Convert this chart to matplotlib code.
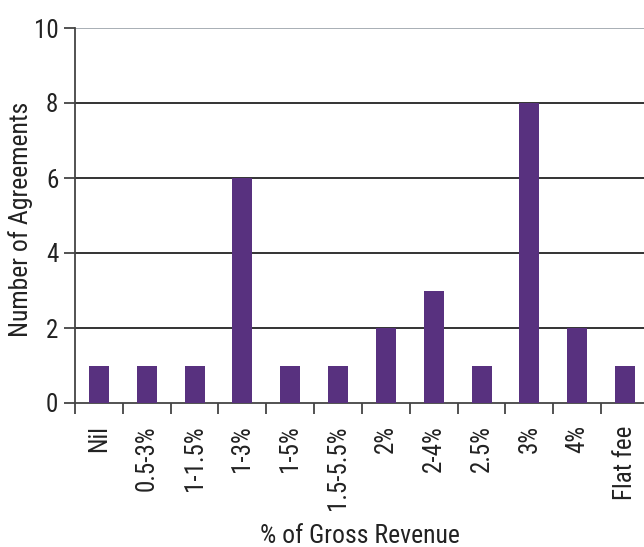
import matplotlib
matplotlib.use("Agg")
import matplotlib.pyplot as plt
import numpy as np
from matplotlib import font_manager

categories = ["Nil", "0.5-3%", "1-1.5%", "1-3%", "1-5%", "1.5-5.5%", "2%", "2-4%", "2.5%", "3%", "4%", "Flat fee"]
counts = [1, 1, 1, 6, 1, 1, 2, 3, 1, 8, 2, 1]
yticks = [0, 2, 4, 6, 8, 10]

names = {f.name for f in font_manager.fontManager.ttflist}
fam = "DejaVu Sans"
for cand in ["Liberation Sans Narrow", "Roboto Condensed", "Open Sans Condensed", "DejaVu Sans Condensed", "Roboto"]:
    if cand in names:
        fam = cand
        break
plt.rcParams["font.family"] = [fam, "DejaVu Sans"]

fig = plt.figure(figsize=(6.44, 5.47), dpi=100)
ax = fig.add_axes([75/644, 1 - 403/547, 574/644, 375/547])

x = np.arange(len(categories))
ax.bar(x, counts, width=0.42, color="#58317f", zorder=3)

ax.set_xlim(-0.5, len(categories) - 0.5)
ax.set_ylim(0, 10)
ax.set_yticks(yticks)
ax.set_yticklabels([str(v) for v in yticks], fontsize=18, color="#222222")

ax.set_xticks(x)
ax.set_xticklabels(categories, rotation=90, fontsize=18, color="#222222")
ax.tick_params(axis="x", which="major", length=0, pad=16)
ax.set_xticks(np.arange(len(categories)) - 0.5, minor=True)
ax.tick_params(axis="x", which="minor", length=8, width=1.3, color="#444444")
ax.tick_params(axis="y", length=8, width=1.3, color="#444444", pad=4)

for v in yticks[1:]:
    ax.axhline(v, color="#333333" if v < 10 else "#a8aeb4", lw=1.4, zorder=1)

for s in ["top", "right"]:
    ax.spines[s].set_visible(False)
for s in ["left", "bottom"]:
    ax.spines[s].set_color("#444444")
    ax.spines[s].set_linewidth(1.3)

ax.set_ylabel("Number of Agreements", fontsize=18.5, color="#222222")
ax.yaxis.set_label_coords(-0.073, 0.49)
ax.set_xlabel("% of Gross Revenue", fontsize=18.5, color="#222222")
ax.xaxis.set_label_coords(0.497, -0.322)

fig.savefig("out.png", dpi=100)
